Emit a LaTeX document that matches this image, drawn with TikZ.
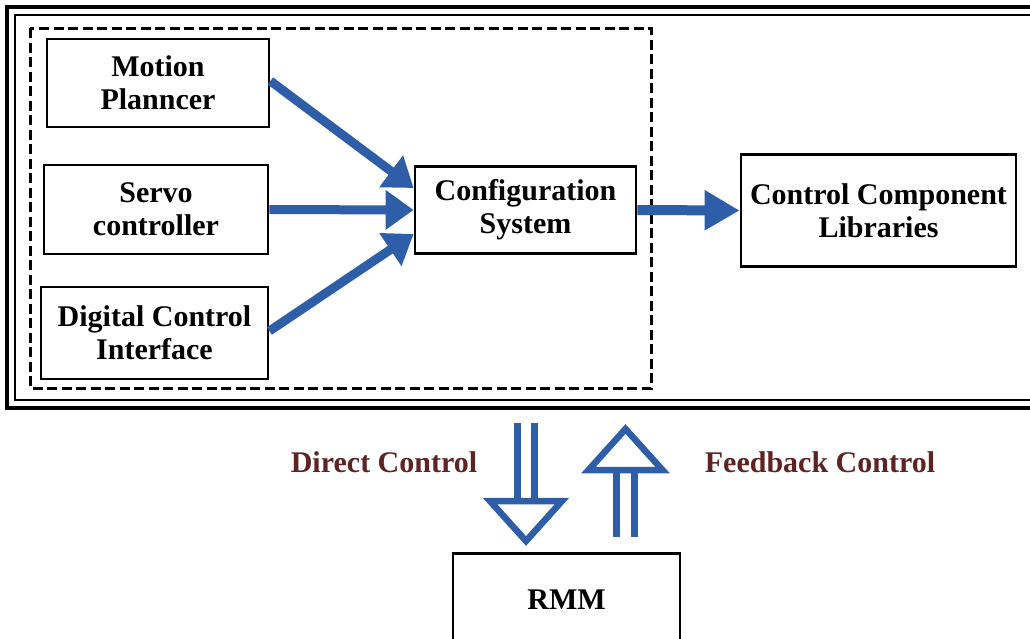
\documentclass[tikz,border=0pt]{standalone}
\usepackage{fontspec}
\setmainfont{Liberation Serif}
\usetikzlibrary{arrows.meta}
\definecolor{arrowblue}{RGB}{46,94,168}
\definecolor{labelbrown}{RGB}{95,35,35}
\begin{document}
\begin{tikzpicture}[x=1pt,y=-1pt,
  box/.style={draw=black, line width=2.8pt, fill=white, align=center, inner sep=0pt,
    font=\fontsize{30}{33}\selectfont\bfseries},
  flow/.style={draw=arrowblue, line width=9pt, -{Triangle[length=28pt,width=38pt]}},
  bigflow/.style={draw=arrowblue, line width=10pt, -{Triangle[length=35pt,width=38pt]}},
  lbl/.style={text=labelbrown, inner sep=0pt, font=\fontsize{30}{33}\selectfont\bfseries},
  shaftline/.style={draw=arrowblue, line width=7pt},
  hollowhead/.style={draw=arrowblue, line width=6.5pt, line join=miter},
  groupbox/.style={draw=black, line width=3pt, dash pattern=on 10pt off 4.5pt},
  frameout/.style={draw=black, line width=3.5pt},
  framein/.style={draw=black, line width=2.6pt}
]
\useasboundingbox (0,0) rectangle (1030,638);
\fill[white] (0,0) rectangle (1030,638);
\clip (0,0) rectangle (1030,638);

% outer double frame (its right side lies beyond the picture)
\draw[frameout] (7,7) rectangle (1050,408);
\draw[framein] (15,15) rectangle (1042,400);

% dashed group
\draw[groupbox] (30,28) rectangle (651,388);

% boxes
\node[box, minimum width=222pt, minimum height=88pt] (mp) at (158,83) {Motion\\Planncer};
\node[box, minimum width=224pt, minimum height=89pt] (sc) at (156,209.5) {Servo\\controller};
\node[box, minimum width=227pt, minimum height=92pt] (dci) at (154.5,333) {Digital Control\\Interface};
\node[box, minimum width=221pt, minimum height=87pt] (cs) at (525.5,210) {Configuration\\System};
\node[box, minimum width=275pt, minimum height=112pt] (ccl) at (878.5,210.5) {Control Component\\Libraries};
\node[box, minimum width=227pt, minimum height=92pt, anchor=north] (rmm) at (566.5,552) {RMM};

% blue connectors
\draw[flow] ([yshift=2pt]mp.east) -- ([yshift=22pt]cs.west);
\draw[flow] (sc.east) -- (cs.west);
\draw[flow] ([yshift=2pt]dci.east) -- ([yshift=-24pt]cs.west);
\draw[bigflow] (cs.east) -- (ccl.west);

% labels
\node[lbl] (dclbl) at (384,462) {Direct Control};
\node[lbl] (fblbl) at (820,462) {Feedback Control};

% Direct Control: hollow double arrow down
\coordinate (dtop) at (526,423);
\coordinate (dbase) at (526,501);
\coordinate (dtip) at (526,541);
\draw[shaftline] ([xshift=-8.75pt]dtop) -- ([xshift=-8.75pt]dbase);
\draw[shaftline] ([xshift=8.75pt]dtop) -- ([xshift=8.75pt]dbase);
\draw[hollowhead] ([xshift=-36pt]dbase) -- ([xshift=36pt]dbase) -- (dtip) -- cycle;

% Feedback Control: hollow double arrow up
\coordinate (ubot) at (625.5,537);
\coordinate (ubase) at (625.5,470);
\coordinate (utip) at (625.5,429);
\draw[shaftline] ([xshift=-8.75pt]ubot) -- ([xshift=-8.75pt]ubase);
\draw[shaftline] ([xshift=8.75pt]ubot) -- ([xshift=8.75pt]ubase);
\draw[hollowhead] ([xshift=-37pt]ubase) -- ([xshift=37pt]ubase) -- (utip) -- cycle;
\end{tikzpicture}
\end{document}
